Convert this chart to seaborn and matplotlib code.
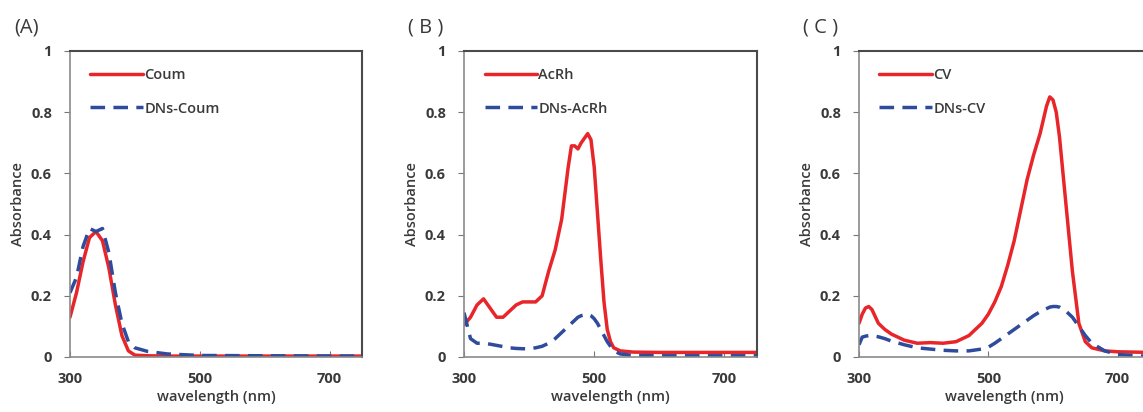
import numpy as np
import pandas as pd
import matplotlib
matplotlib.use("Agg")
import matplotlib.pyplot as plt
import seaborn as sns

# (A) Coum / DNs-Coum
wl_a = [300, 310, 320, 330, 340, 350, 360, 370, 380, 390, 400, 420, 450, 500, 600, 750]
coum = [0.13, 0.21, 0.31, 0.39, 0.41, 0.38, 0.29, 0.17, 0.07, 0.02, 0.006, 0.004, 0.003, 0.003, 0.003, 0.003]
dns_coum = [0.21, 0.26, 0.36, 0.42, 0.41, 0.42, 0.34, 0.21, 0.11, 0.05, 0.03, 0.018, 0.01, 0.005, 0.004, 0.003]

# (B) AcRh / DNs-AcRh
wl_b = [300, 310, 320, 330, 340, 350, 360, 370, 380, 390, 400, 410, 420, 430, 440, 450,
        460, 465, 470, 475, 480, 490, 495, 500, 505, 510, 515, 520, 525, 530, 540, 560, 600, 750]
acrh = [0.105, 0.13, 0.17, 0.19, 0.16, 0.13, 0.13, 0.15, 0.17, 0.18, 0.18, 0.18, 0.2, 0.28, 0.35, 0.45,
        0.62, 0.69, 0.69, 0.68, 0.70, 0.73, 0.71, 0.62, 0.47, 0.32, 0.18, 0.09, 0.05, 0.03, 0.02, 0.016, 0.015, 0.015]
dns_acrh = [0.145, 0.06, 0.045, 0.045, 0.042, 0.038, 0.034, 0.03, 0.028, 0.027, 0.027, 0.03, 0.035, 0.045, 0.06, 0.08,
            0.1, 0.11, 0.12, 0.13, 0.135, 0.14, 0.135, 0.125, 0.11, 0.09, 0.07, 0.05, 0.035, 0.02, 0.01, 0.005, 0.004, 0.004]

# (C) CV / DNs-CV
wl_c = [300, 305, 310, 315, 320, 330, 340, 350, 370, 390, 410, 430, 450, 470, 490, 500, 510, 520, 530,
        540, 550, 560, 570, 580, 590, 595, 600, 605, 610, 620, 630, 640, 650, 660, 680, 700, 750]
cv = [0.11, 0.14, 0.16, 0.165, 0.155, 0.11, 0.09, 0.075, 0.055, 0.045, 0.047, 0.045, 0.05, 0.07, 0.11, 0.14, 0.18, 0.23, 0.3,
      0.38, 0.48, 0.58, 0.66, 0.73, 0.82, 0.85, 0.84, 0.8, 0.72, 0.5, 0.28, 0.11, 0.05, 0.03, 0.02, 0.017, 0.015]
dns_cv = [0.04, 0.065, 0.068, 0.07, 0.07, 0.066, 0.06, 0.052, 0.04, 0.03, 0.026, 0.022, 0.02, 0.02, 0.026, 0.032, 0.045, 0.06, 0.075,
          0.09, 0.105, 0.12, 0.135, 0.148, 0.158, 0.163, 0.165, 0.165, 0.163, 0.15, 0.13, 0.1, 0.07, 0.045, 0.02, 0.008, 0.002]

panels = [
    ("(A)", wl_a, coum, dns_coum, "Coum", "DNs-Coum"),
    ("( B )", wl_b, acrh, dns_acrh, "AcRh", "DNs-AcRh"),
    ("( C )", wl_c, cv, dns_cv, "CV", "DNs-CV"),
]

sns.set_style("white")
plt.rcParams["font.family"] = ["Open Sans", "DejaVu Sans"]

W, H = 1143, 412
fig = plt.figure(figsize=(W / 100, H / 100), dpi=100)

# axes boxes in pixels (left, right); panel C runs past the right edge like the original crop
boxes = [(70, 362), (464, 757), (859, 1150)]
top, bottom = 51, 357

red = "#e8262a"
blue = "#2f4c9c"
txt = "#3a3a3a"

for (label, wl, s1, s2, n1, n2), (x0, x1) in zip(panels, boxes):
    ax = fig.add_axes([x0 / W, 1 - bottom / H, (x1 - x0) / W, (bottom - top) / H])
    df = pd.DataFrame({"wavelength": wl, n1: s1, n2: s2}).melt(
        "wavelength", var_name="sample", value_name="abs")
    sns.lineplot(data=df, x="wavelength", y="abs", hue="sample", style="sample",
                 palette=[red, blue], dashes=[(None, None), (4.2, 2.4)], linewidth=2.5,
                 ax=ax, legend=True)
    ax.set_xlim(300, 750)
    ax.set_ylim(0, 1)
    ax.set_xticks([300, 500, 700])
    ax.set_xticklabels(["300", "500", "700"])
    ax.set_yticks([0, 0.2, 0.4, 0.6, 0.8, 1])
    ax.set_yticklabels(["0", "0.2", "0.4", "0.6", "0.8", "1"])
    ax.tick_params(axis="y", labelsize=10.5, colors="#777777", labelcolor=txt,
                   length=4, width=0.8, direction="out", left=True, pad=9)
    ax.tick_params(axis="x", labelsize=10.5, colors="#777777", labelcolor=txt,
                   length=4, width=0.8, direction="in", bottom=True, pad=11)
    for lab in ax.get_xticklabels() + ax.get_yticklabels():
        lab.set_fontweight("bold")
    for side in ["left", "bottom"]:
        ax.spines[side].set_color("#8a8a8a")
        ax.spines[side].set_linewidth(1.2)
    for side in ["top", "right"]:
        ax.spines[side].set_color("#4a4a4a")
        ax.spines[side].set_linewidth(1.5)
    ax.set_xlabel("wavelength (nm)", fontsize=10.5, color=txt, labelpad=3, fontweight="semibold")
    ax.set_ylabel("Absorbance", fontsize=10.5, color=txt, labelpad=4, fontweight="semibold")
    leg = ax.legend(loc="upper left", frameon=False, fontsize=10.5, handlelength=3.6,
                    handletextpad=0.1, labelspacing=1.35, borderaxespad=0, borderpad=0,
                    bbox_to_anchor=(0.07, 0.945))
    for t in leg.get_texts():
        t.set_color(txt)
        t.set_fontweight("semibold")
    fig.text((x0 - 56) / W, 1 - 27 / H, label, fontsize=14.5, color=txt,
             va="center", ha="left")

fig.savefig("out.png", dpi=100, facecolor="white")
